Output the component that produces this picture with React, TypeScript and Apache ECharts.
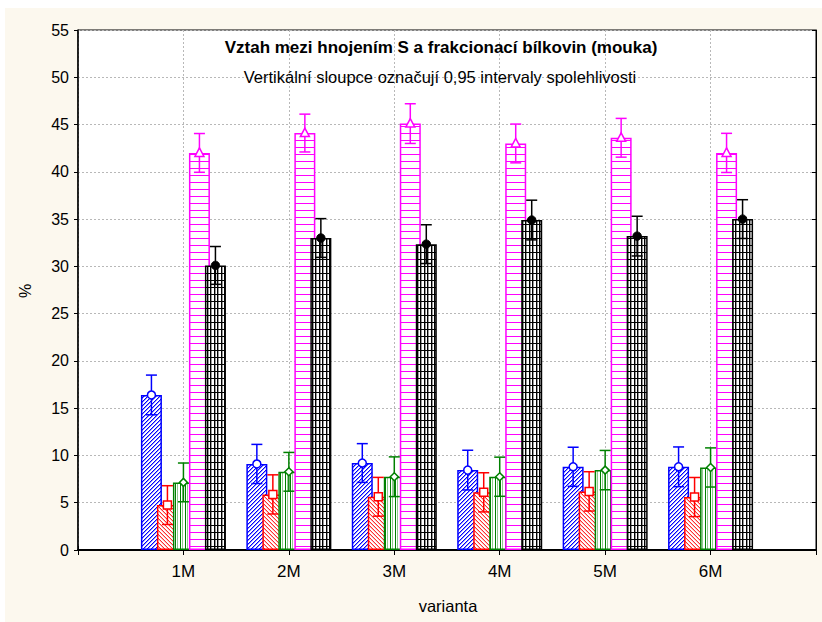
import React, { useEffect, useRef } from "react";
import * as echarts from "echarts";

const categories = ["1M", "2M", "3M", "4M", "5M", "6M"];
const yMin = 0;
const yMax = 55;
const yStep = 5;

const blueMeans = [16.4, 9.1, 9.2, 8.45, 8.8, 8.8];
const blueCI = [2.1, 2.07, 2.05, 2.1, 2.07, 2.1];
const redMeans = [4.75, 5.88, 5.63, 6.1, 6.2, 5.6];
const redCI = [2.05, 2.07, 2.05, 2.07, 2.08, 2.07];
const greenMeans = [7.15, 8.27, 7.75, 7.75, 8.45, 8.73];
const greenCI = [2.05, 2.05, 2.1, 2.07, 2.08, 2.07];
const magentaMeans = [42.0, 44.1, 45.1, 43.0, 43.6, 42.0];
const magentaCI = [2.05, 2.0, 2.1, 2.05, 2.05, 2.07];
const blackMeans = [30.1, 33.0, 32.35, 34.9, 33.2, 35.0];
const blackCI = [2.0, 2.05, 2.05, 2.1, 2.1, 2.05];

const titleText = "Vztah mezi hnojením S a frakcionací bílkovin (mouka)";
const subtitleText = "Vertikální sloupce označují 0,95 intervaly spolehlivosti";
const xName = "varianta";
const yName = "%";

const FONT = "'Liberation Sans', Arial, sans-serif";

function makePattern(w: number, h: number, draw: (ctx: CanvasRenderingContext2D) => void) {
  const c = document.createElement("canvas");
  c.width = w;
  c.height = h;
  const ctx = c.getContext("2d")!;
  ctx.fillStyle = "#ffffff";
  ctx.fillRect(0, 0, w, h);
  draw(ctx);
  return { image: c.toDataURL(), repeat: "repeat", imageWidth: w, imageHeight: h } as any;
}

export default function App() {
  const ref = useRef<HTMLDivElement>(null);
  useEffect(() => {
    if (!ref.current) return;
    const chart = echarts.init(ref.current, null, { renderer: "svg" });

    const bluePat = makePattern(4, 4, (ctx) => {
      for (let x = 0; x < 4; x++) {
        ctx.fillStyle = "#0000ff";
        ctx.fillRect(x, 3 - x, 1, 1);
        ctx.fillStyle = "#9090ff";
        ctx.fillRect(x, (4 - x) % 4, 1, 1);
      }
    });
    const redPat = makePattern(4, 4, (ctx) => {
      for (let x = 0; x < 4; x++) {
        ctx.fillStyle = "#ff3030";
        ctx.fillRect(x, x, 1, 1);
        ctx.fillStyle = "#ffb8b8";
        ctx.fillRect(x, (x + 1) % 4, 1, 1);
      }
    });
    const greenPat = makePattern(5, 4, (ctx) => {
      ctx.fillStyle = "#008000";
      ctx.fillRect(0, 0, 1, 4);
      ctx.fillStyle = "#90c890";
      ctx.fillRect(2, 0, 1, 4);
    });
    const magentaPat = makePattern(4, 7, (ctx) => {
      ctx.fillStyle = "#ff00ff";
      ctx.fillRect(0, 0, 4, 1);
    });
    const blackPat = makePattern(7, 7, (ctx) => {
      ctx.fillStyle = "#000000";
      ctx.fillRect(0, 0, 1, 7);
      ctx.fillRect(4, 0, 1, 7);
      ctx.fillStyle = "#999999";
      ctx.fillRect(1, 0, 1, 7);
      ctx.fillRect(5, 0, 1, 7);
      ctx.fillStyle = "#000000";
      ctx.fillRect(0, 0, 7, 1);
    });

    const groups = [
      { means: blueMeans, ci: blueCI, color: "#0000ff", pat: bluePat, marker: "circle" },
      { means: redMeans, ci: redCI, color: "#ff0000", pat: redPat, marker: "square" },
      { means: greenMeans, ci: greenCI, color: "#008000", pat: greenPat, marker: "diamond" },
      { means: magentaMeans, ci: magentaCI, color: "#ff00ff", pat: magentaPat, marker: "triangle" },
      { means: blackMeans, ci: blackCI, color: "#000000", pat: blackPat, marker: "dot" },
    ];

    const barSeries = groups.map((g) => ({
      type: "bar",
      barWidth: 21,
      barGap: "-23.8%",
      data: g.means.map((v, i) => [i + 1, v]),
      itemStyle: { color: g.pat, borderColor: g.color, borderWidth: 1.5 },
      emphasis: { disabled: true },
    }));

    const errSeries = groups.map((g, gi) => ({
      type: "custom",
      z: 10,
      data: g.means.map((v, i) => [i + 1, v, v - g.ci[i], v + g.ci[i]]),
      renderItem: (params: any, api: any) => {
        const idx = api.value(0);
        const off = (gi - 2) * 16;
        const pm = api.coord([idx, api.value(1)]);
        const pl = api.coord([idx, api.value(2)]);
        const ph = api.coord([idx, api.value(3)]);
        const x = pm[0] + off;
        const ym = pm[1];
        const cw = 5.5;
        const ls = { stroke: g.color, lineWidth: 1.5 };
        const children: any[] = [
          { type: "line", shape: { x1: x, y1: pl[1], x2: x, y2: ph[1] }, style: ls },
          { type: "line", shape: { x1: x - cw, y1: pl[1], x2: x + cw, y2: pl[1] }, style: ls },
          { type: "line", shape: { x1: x - cw, y1: ph[1], x2: x + cw, y2: ph[1] }, style: ls },
        ];
        const ms = { fill: "#ffffff", stroke: g.color, lineWidth: 1.5 };
        if (g.marker === "circle") {
          children.push({ type: "circle", shape: { cx: x, cy: ym, r: 4 }, style: ms });
        } else if (g.marker === "square") {
          children.push({ type: "rect", shape: { x: x - 4, y: ym - 4, width: 8, height: 8 }, style: ms });
        } else if (g.marker === "diamond") {
          children.push({
            type: "polygon",
            shape: { points: [[x, ym - 4], [x + 4, ym], [x, ym + 4], [x - 4, ym]] },
            style: ms,
          });
        } else if (g.marker === "triangle") {
          children.push({
            type: "polygon",
            shape: { points: [[x, ym - 5], [x + 4.5, ym + 3.5], [x - 4.5, ym + 3.5]] },
            style: ms,
          });
        } else {
          children.push({ type: "circle", shape: { cx: x, cy: ym, r: 4.2 }, style: { fill: "#000", stroke: "#000", lineWidth: 1 } });
        }
        return { type: "group", children };
      },
    }));

    const catData = ["", ...categories, ""];

    chart.setOption({
      animation: false,
      backgroundColor: "#fcf8ee",
      grid: {
        left: 78,
        right: 6,
        top: 30,
        bottom: 72,
        show: true,
        backgroundColor: "#ffffff",
        borderColor: "#000",
        borderWidth: 1,
      },
      xAxis: [
        {
          type: "category",
          data: catData,
          boundaryGap: false,
          position: "bottom",
          axisLine: { lineStyle: { color: "#000", width: 2 } },
          axisTick: { inside: true, length: 4, lineStyle: { color: "#000" } },
          axisLabel: { color: "#000", fontSize: 17, fontFamily: FONT, margin: 13 },
          splitLine: { show: true, lineStyle: { color: "#b8b8b8", type: [2, 2], width: 1 } },
        },
        {
          type: "category",
          data: catData,
          boundaryGap: false,
          position: "top",
          axisLine: { lineStyle: { color: "#000", width: 1 } },
          axisTick: { inside: true, length: 5, lineStyle: { color: "#000" } },
          axisLabel: { show: false },
          splitLine: { show: false },
        },
      ],
      yAxis: [
        {
          type: "value",
          min: yMin,
          max: yMax,
          interval: yStep,
          axisLine: { show: true, lineStyle: { color: "#000", width: 1.5 } },
          axisTick: { show: true, inside: false, length: 4, lineStyle: { color: "#000" } },
          axisLabel: { color: "#000", fontSize: 16, fontFamily: FONT, margin: 9 },
          splitLine: { show: true, lineStyle: { color: "#b8b8b8", type: [2, 2], width: 1 } },
        },
        {
          type: "value",
          min: yMin,
          max: yMax,
          interval: yStep,
          position: "right",
          axisLine: { show: true, lineStyle: { color: "#000", width: 1 } },
          axisTick: { show: true, inside: true, length: 4, lineStyle: { color: "#000" } },
          axisLabel: { show: false },
          splitLine: { show: false },
        },
      ],
      graphic: [
        { type: "rect", shape: { x: 0, y: 0, width: 822, height: 8 }, style: { fill: "#ffffff" }, silent: true },
        { type: "rect", shape: { x: 0, y: 0, width: 5, height: 622 }, style: { fill: "#ffffff" }, silent: true },
        {
          type: "text",
          x: 441,
          y: 47,
          z: 100,
          style: { text: titleText, fill: "#000", font: `bold 17px ${FONT}`, align: "center", verticalAlign: "middle" },
        },
        {
          type: "text",
          x: 440,
          y: 77,
          z: 100,
          style: { text: subtitleText, fill: "#000", font: `16.5px ${FONT}`, align: "center", verticalAlign: "middle" },
        },
        {
          type: "text",
          x: 448,
          y: 606,
          style: { text: xName, fill: "#000", font: `16.5px ${FONT}`, align: "center", verticalAlign: "middle" },
        },
        {
          type: "text",
          x: 25,
          y: 291,
          rotation: Math.PI / 2,
          style: { text: yName, fill: "#000", font: `16px ${FONT}`, align: "center", verticalAlign: "middle" },
        },
      ],
      series: [...barSeries, ...errSeries],
    });
    return () => chart.dispose();
  }, []);
  return (
    <div
      ref={ref}
      style={{ position: "absolute", left: 0, top: 0, width: 822, height: 622 }}
    />
  );
}
